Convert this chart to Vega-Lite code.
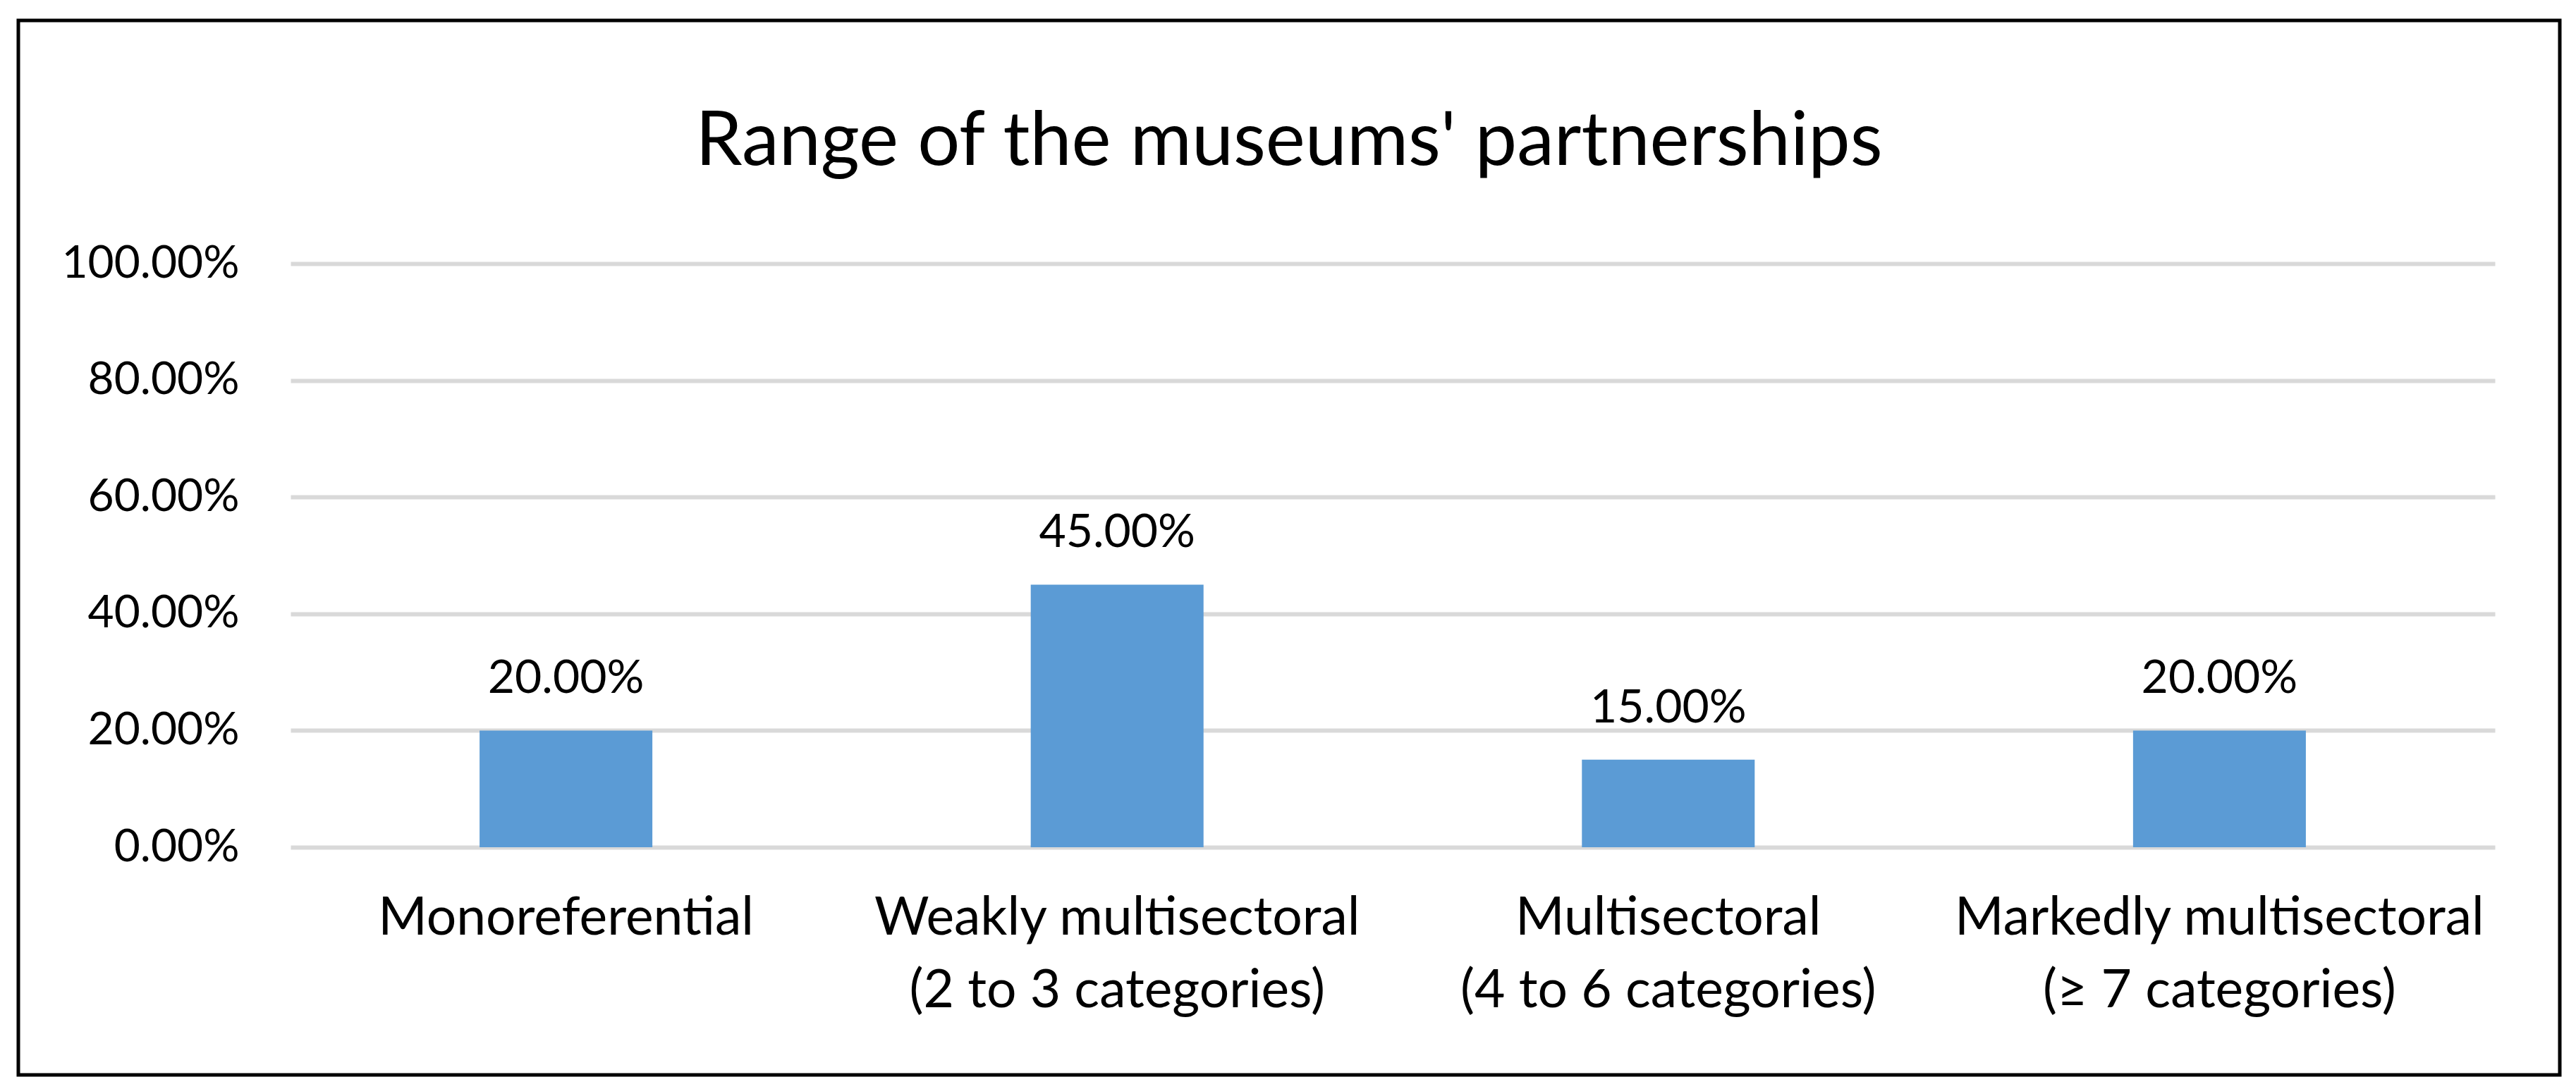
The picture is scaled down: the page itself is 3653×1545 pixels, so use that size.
{
  "$schema": "https://vega.github.io/schema/vega-lite/v6.json",
  "autosize": {"type": "none"},
  "padding": {"left": 26, "top": 29, "right": 23, "bottom": 20},
  "width": 3604,
  "height": 1496,
  "background": "white",
  "title": {
    "text": "Range of the museums' partnerships",
    "font": "Lato",
    "fontSize": 106,
    "fontWeight": "normal",
    "color": "#000000",
    "anchor": "middle",
    "frame": "group",
    "baseline": "alphabetic",
    "offset": -311
  },
  "config": {
    "view": {"stroke": "#000000", "strokeWidth": 5, "fill": "white"}
  },
  "data": {
    "values": [
      {"category": "Monoreferential", "value": 0.20},
      {"category": "Weakly multisectoral\n(2 to 3 categories)", "value": 0.45},
      {"category": "Multisectoral\n(4 to 6 categories)", "value": 0.15},
      {"category": "Markedly multisectoral\n(≥ 7 categories)", "value": 0.20}
    ]
  },
  "encoding": {
    "x": {
      "field": "category",
      "type": "nominal",
      "sort": null,
      "scale": {"range": [386, 3512], "paddingInner": 0.6865, "paddingOuter": 0.343},
      "axis": {
        "title": null,
        "labelAngle": 0,
        "domain": false,
        "ticks": false,
        "tickSize": 0,
        "grid": false,
        "labelPadding": 0,
        "offset": -200,
        "labelBaseline": "alphabetic",
        "labelLineHeight": 103,
        "labelExpr": "split(datum.label, '\\n')",
        "labelFont": "Lato",
        "labelFontSize": 75,
        "labelColor": "#000000",
        "labelLimit": 0,
        "labelOverlap": false
      }
    },
    "y": {
      "field": "value",
      "type": "quantitative",
      "scale": {"domain": [0, 1], "range": [1173, 345], "nice": false},
      "axis": {
        "title": null,
        "values": [0, 0.2, 0.4, 0.6, 0.8, 1],
        "format": ".2%",
        "domain": false,
        "ticks": false,
        "tickSize": 0,
        "labelPadding": 0,
        "offset": -313,
        "grid": true,
        "gridColor": "#d9d9d9",
        "gridWidth": 6,
        "labelFont": "Lato",
        "labelFontSize": 64,
        "labelColor": "#000000",
        "labelLimit": 0,
        "labelOverlap": false,
        "zindex": 0
      }
    }
  },
  "layer": [
    {"mark": {"type": "bar", "color": "#5b9bd5"}},
    {
      "mark": {"type": "text", "baseline": "alphabetic", "align": "center", "dy": -53, "font": "Lato", "fontSize": 66, "color": "#000000"},
      "encoding": {"text": {"field": "value", "type": "quantitative", "format": ".2%"}}
    }
  ]
}
